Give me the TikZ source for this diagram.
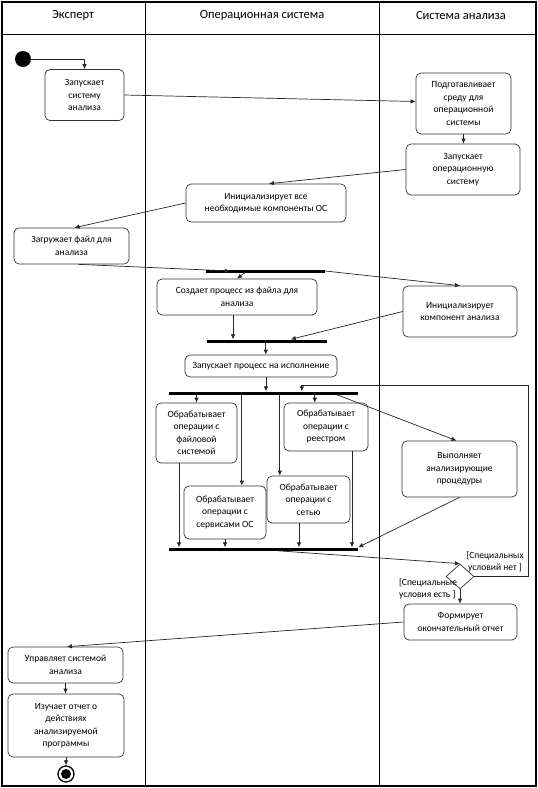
\documentclass[tikz,border=0pt]{standalone}
\usepackage{fontspec}
\setmainfont{Carlito}
\usetikzlibrary{arrows.meta,shapes.geometric,positioning}

\begin{document}
\begin{tikzpicture}[x=1pt,y=-1pt,
	act/.style={draw=black!80, line width=0.7pt, rounded corners=5pt, align=center, inner sep=0pt, font=\fontsize{9.5}{12.5}\selectfont},
	bar/.style={fill=black, inner sep=0pt, minimum height=3pt},
	flow/.style={-{Latex[length=5pt,width=4.5pt]}, black!85, line width=0.7pt},
	guard/.style={inner sep=0pt, font=\fontsize{9.5}{12.5}\selectfont},
	lane/.style={font=\fontsize{12.5}{15}\selectfont}]
	\useasboundingbox (0,0) rectangle (538,788);

	\draw[line width=1.2pt] (2,2) rectangle (536,786);
	\draw[line width=0.8pt] (2,34) -- (536,34);
	\draw[line width=0.8pt] (145,2) -- (145,786);
	\draw[line width=0.8pt] (379,2) -- (379,786);
	\node[lane] (h1) at (73,15) {Эксперт};
	\node[lane] (h2) at (262,15) {Операционная система};
	\node[lane] (h3) at (461,15) {Система анализа};

	\node[circle, fill=black, minimum size=16pt, inner sep=0pt] (start) at (23,59) {};
	\node[act, minimum width=79pt, minimum height=51pt] (a1) at (84.5,95) {Запускает\\систему\\анализа};
	\node[act, minimum width=95pt, minimum height=61pt] (c1) at (463.5,103.5) {Подготавливает\\среду для\\операционной\\системы};
	\node[act, minimum width=114pt, minimum height=51pt] (c2) at (463,169.5) {Запускает\\операционную\\систему};
	\node[act, minimum width=160pt, minimum height=38pt] (b1) at (266,203) {Инициализирует все\\необходимые компоненты ОС};
	\node[act, minimum width=115pt, minimum height=36pt] (a2) at (71.5,246) {Загружает файл для\\анализа};
	\node[bar, minimum width=119pt] (f1) at (265.5,271) {};
	\node[act, minimum width=160pt, minimum height=36pt] (b2) at (237,297) {Создает процесс из файла для\\анализа};
	\node[act, minimum width=114pt, minimum height=51pt] (c3) at (460,311.5) {Инициализирует\\компонент анализа};
	\node[bar, minimum width=120pt] (f2) at (267,341) {};
	\node[act, minimum width=152pt, minimum height=22pt] (b3) at (261,366) {Запускает процесс на исполнение};
	\node[bar, minimum width=189pt] (f3) at (263.5,393) {};
	\node[act, minimum width=81pt, minimum height=60pt] (b4) at (196.5,433) {Обрабатывает\\операции с\\файловой\\системой};
	\node[act, minimum width=84pt, minimum height=48pt] (b5) at (326,427) {Обрабатывает\\операции с\\реестром};
	\node[act, minimum width=82pt, minimum height=53pt] (b6) at (225,512.5) {Обрабатывает\\операции с\\сервисами ОС};
	\node[act, minimum width=83pt, minimum height=47pt] (b7) at (308.5,499.5) {Обрабатывает\\операции с\\сетью};
	\node[act, minimum width=115pt, minimum height=56pt] (c4) at (459.5,469) {Выполняет\\анализирующие\\процедуры};
	\node[bar, minimum width=189pt] (f4) at (263.5,549) {};
	\node[diamond, draw=black!80, line width=0.7pt, minimum width=28pt, minimum height=25pt, inner sep=0pt] (d1) at (460,576.5) {};
	\node[guard, align=center] (g1) at (495,562) {[Специальных\\условий нет ]};
	\node[guard, align=left] (g2) at (428,589) {[Специальные\\условия есть ]};
	\node[act, minimum width=113pt, minimum height=36pt] (c5) at (460.5,622) {Формирует\\окончательный отчет};
	\node[act, minimum width=115pt, minimum height=36pt] (a3) at (65.5,665) {Управляет системой\\анализа};
	\node[act, minimum width=116pt, minimum height=63pt] (a4) at (66,725.5) {Изучает отчет о\\действиях\\анализируемой\\программы};
	\node[circle, draw=black, line width=1.3pt, minimum size=16pt, inner sep=0pt] (end) at (66,774) {};
	\node[circle, fill=black, minimum size=10pt, inner sep=0pt] (endin) at (end) {};
	\coordinate (loop) at (528,385);

	\draw[flow] (start) -| (a1);
	\draw[flow] (a1.east) -- ([yshift=2pt]c1.west);
	\draw[flow] (c1.south) -- (c1.south |- c2.north);
	\draw[flow] (c2.west) -- ([xshift=3pt]b1.north);
	\draw[flow] (b1.west) -- ([xshift=3pt]a2.north);
	\draw[flow] ([xshift=7pt]a2.south) -- ([xshift=24pt]f1.west);
	\draw[flow] ([xshift=39pt]f1.south west) -- (b2.north);
	\draw[flow] (f1.east) -- (c3.north);
	\draw[flow] ([xshift=-4pt]b2.south) -- ([xshift=-4pt]b2.south |- f2.north);
	\draw[flow] (c3.west) -- ([xshift=84pt]f2.north west);
	\draw[flow] ([xshift=59pt]f2.south west) -- ([xshift=59pt]f2.south west |- b3.north);
	\draw[flow] ([xshift=5pt]b3.south) -- ([xshift=5pt]b3.south |- f3.north);

	\draw[flow] (b4.north |- f3.south) -- (b4.north);
	\draw[flow] ([xshift=73pt]f3.south west) -- ([xshift=73pt]f3.south west |- b6.north);
	\draw[flow] ([xshift=111pt]f3.south west) -- ([xshift=111pt]f3.south west |- b7.north);
	\draw[flow] ([xshift=146pt]f3.south west) -- ([xshift=146pt]f3.south west |- b5.north);
	\draw[flow] ([xshift=168pt]f3.south west) -- ([xshift=-3pt]c4.north);

	\draw[flow] ([xshift=-17.5pt]b4.south) -- ([xshift=-17.5pt]b4.south |- f4.north);
	\draw[flow] (b6.south) -- (b6.south |- f4.north);
	\draw[flow] ([xshift=-9.5pt]b7.south) -- ([xshift=-9.5pt]b7.south |- f4.north);
	\draw[flow] ([xshift=26pt]b5.south) -- ([xshift=26pt]b5.south |- f4.north);
	\draw[flow] (c4.south) -- (f4.north east);

	\draw[flow] ([xshift=108pt]f4.south west) -- (d1.north);
	\draw[flow] (d1.east) -| (loop) -| ([xshift=133pt]f3.north west);
	\draw[flow] (d1.south) -- (d1.south |- c5.north);
	\draw[flow] (c5.west) -- ([xshift=1.5pt]a3.north);
	\draw[flow] (a3.south) -- (a3.south |- a4.north);
	\draw[flow] (a4.south) -- (end.north);
\end{tikzpicture}
\end{document}
